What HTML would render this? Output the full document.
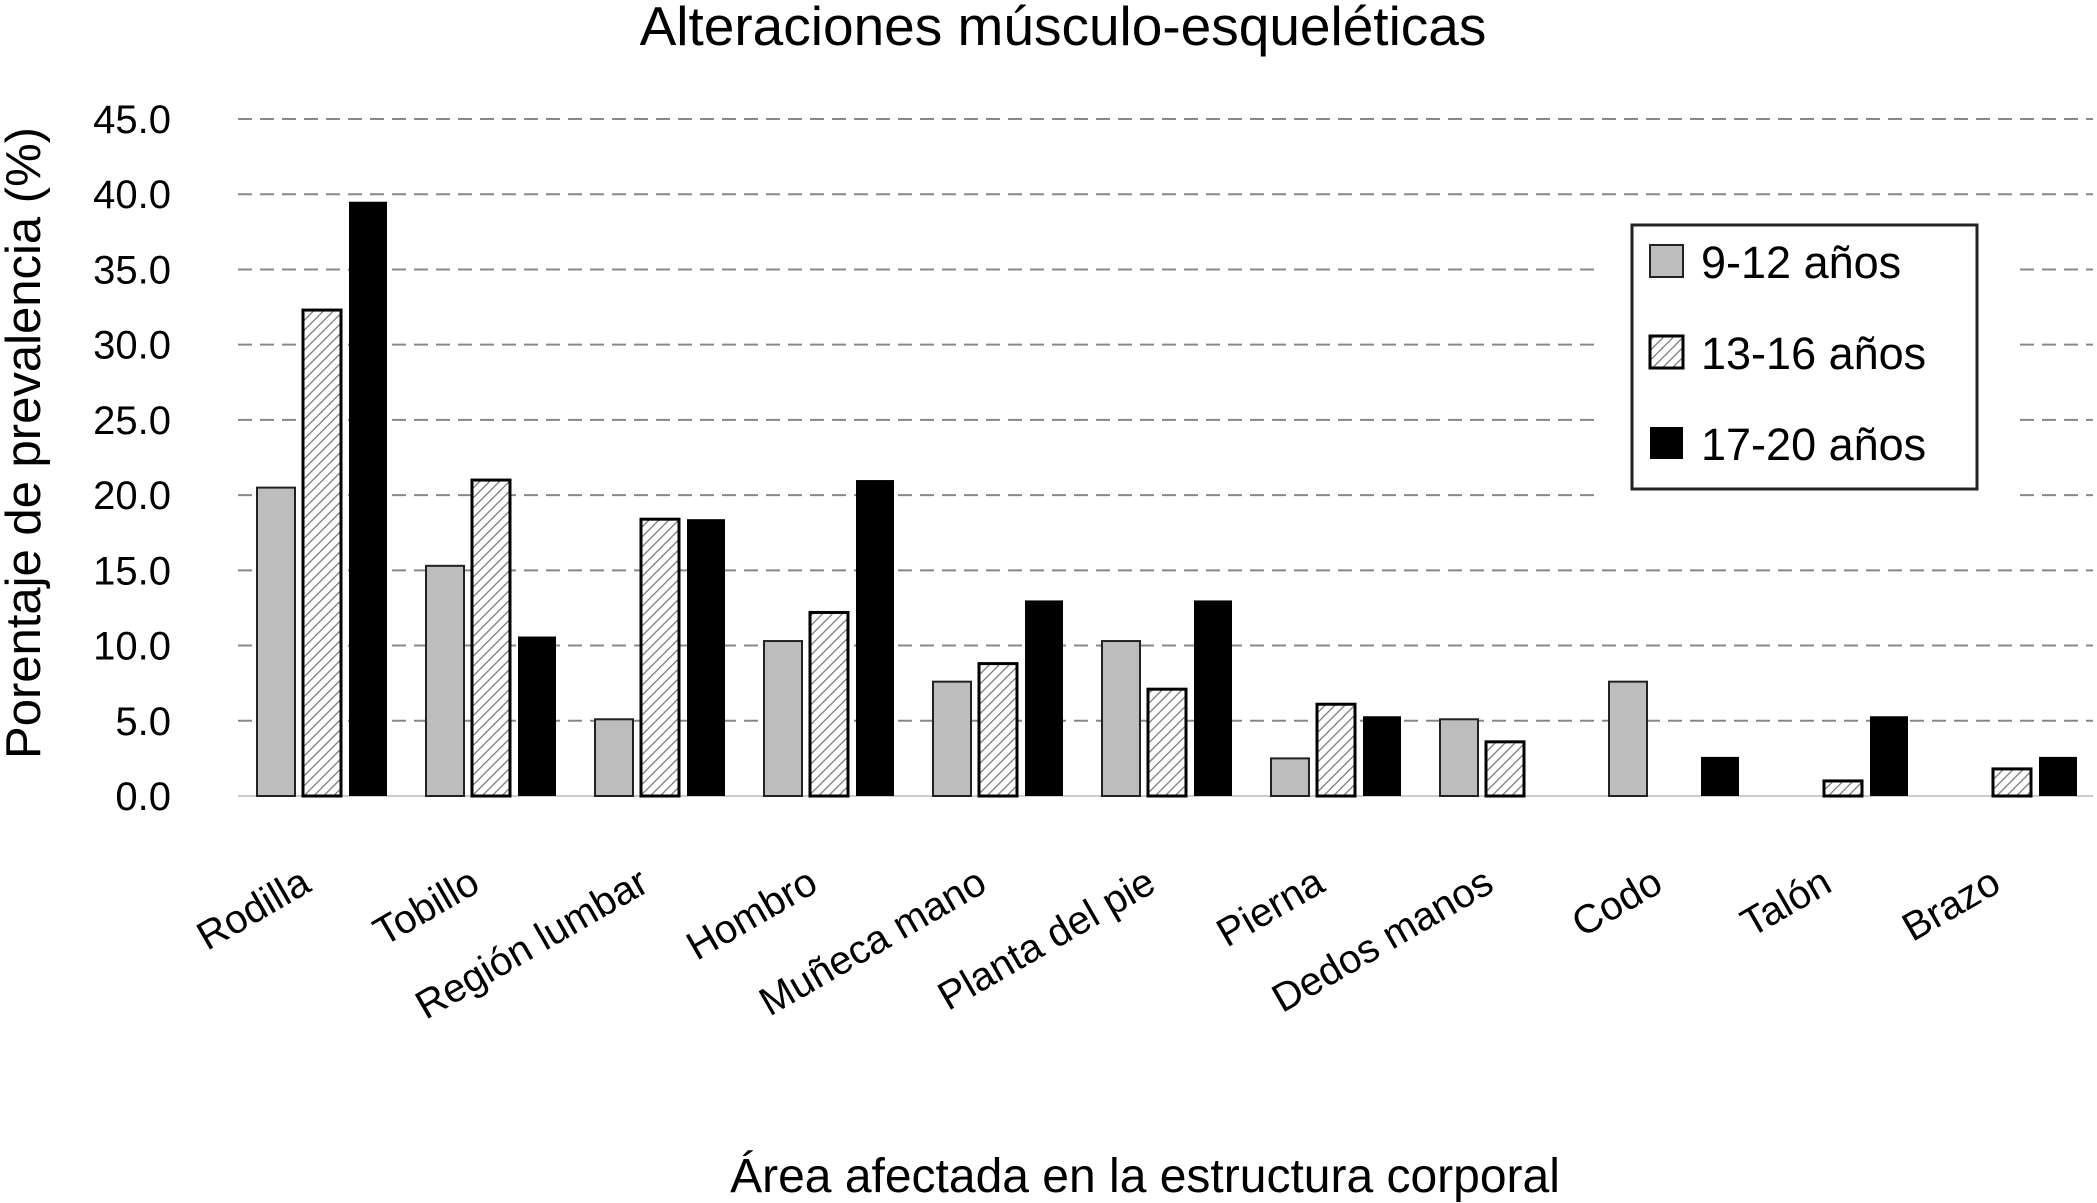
<!DOCTYPE html>
<html><head><meta charset="utf-8"><style>body{margin:0;background:#fff}svg{display:block;font-family:"Liberation Sans",sans-serif}</style></head>
<body>
<svg id="c" width="2097" height="1203" viewBox="0 0 2097 1203">
<defs><pattern id="hatch" width="7" height="7" patternUnits="userSpaceOnUse" patternTransform="rotate(45)"><rect width="7" height="7" fill="#fff"/><line x1="0" y1="0" x2="0" y2="7" stroke="#777" stroke-width="2.5"/></pattern></defs>
<text x="1063" y="45" font-size="55" text-anchor="middle">Alteraciones músculo-esqueléticas</text>
<text transform="translate(40,443) rotate(-90)" font-size="49" text-anchor="middle">Porentaje de prevalencia (%)</text>
<text x="1145" y="1192" font-size="48" text-anchor="middle">Área afectada en la estructura corporal</text>
<g id="grid"></g><g id="bars"></g><g id="xl"></g>
<rect x="1595" y="205" width="420" height="300" fill="#fff"/>
<g>
<rect x="1632" y="225" width="345" height="264" fill="#fff" stroke="#222" stroke-width="3"/>
<rect x="1650" y="245" width="33" height="32" fill="#bdbdbd" stroke="#222" stroke-width="2"/>
<text x="1701" y="278" font-size="45">9-12 años</text>
<rect x="1650" y="336" width="33" height="32" fill="url(#hatch)" stroke="#000" stroke-width="3"/>
<text x="1701" y="369" font-size="45">13-16 años</text>
<rect x="1650" y="427" width="33" height="32" fill="#000"/>
<text x="1701" y="460" font-size="45">17-20 años</text>
</g>
</svg>
<script>
const categories=["Rodilla","Tobillo","Región lumbar","Hombro","Muñeca mano","Planta del pie","Pierna","Dedos manos","Codo","Talón","Brazo"];
const s912=[20.5,15.3,5.1,10.3,7.6,10.3,2.5,5.1,7.6,0,0];
const s1316=[32.3,21.0,18.4,12.2,8.8,7.1,6.1,3.6,0,1.0,1.8];
const s1720=[39.5,10.6,18.4,21.0,13.0,13.0,5.3,0,2.6,5.3,2.6];
const ticks=[0,5,10,15,20,25,30,35,40,45];
const tickLabels=["0.0","5.0","10.0","15.0","20.0","25.0","30.0","35.0","40.0","45.0"];
const NS="http://www.w3.org/2000/svg";
const y=v=>796-v*(677/45);
const xc=i=>322+i*169;
function mk(t,a,p){const e=document.createElementNS(NS,t);for(const k in a)e.setAttribute(k,a[k]);document.getElementById(p).appendChild(e);return e;}
ticks.forEach((t,i)=>{
 if(i>0){const l=mk('line',{x1:238,x2:2093,y1:y(t),y2:y(t),stroke:'#888','stroke-width':2,'stroke-dasharray':'14 8'},'grid');
 
 }
 const tx=mk('text',{x:171,y:y(t)+14,'font-size':40,'text-anchor':'end'},'grid');
 tx.textContent=tickLabels[i];
 
 
});
const base=mk('line',{x1:238,x2:2093,y1:796,y2:796,stroke:'#ccc','stroke-width':2},'grid');


const series=[[s912,'#bdbdbd','#222',2,'9-12'],[s1316,'url(#hatch)','#000',3,'13-16'],[s1720,'#000','#000',0,'17-20']];
categories.forEach((c,i)=>{
 series.forEach((s,j)=>{
  const v=s[0][i]; if(v<=0)return;
  const x=xc(i)+(j-1)*46-19;
  const r=mk('rect',{x:x,y:y(v),width:38,height:796-y(v),fill:s[1],stroke:s[2],'stroke-width':s[3]},'bars');
  
  
 });
 const t=mk('text',{'font-size':40,'text-anchor':'end',transform:`translate(${xc(i)-9},${890}) rotate(-30)`},'xl');
 t.textContent=c;
 
 
});
</script>
</body></html>
